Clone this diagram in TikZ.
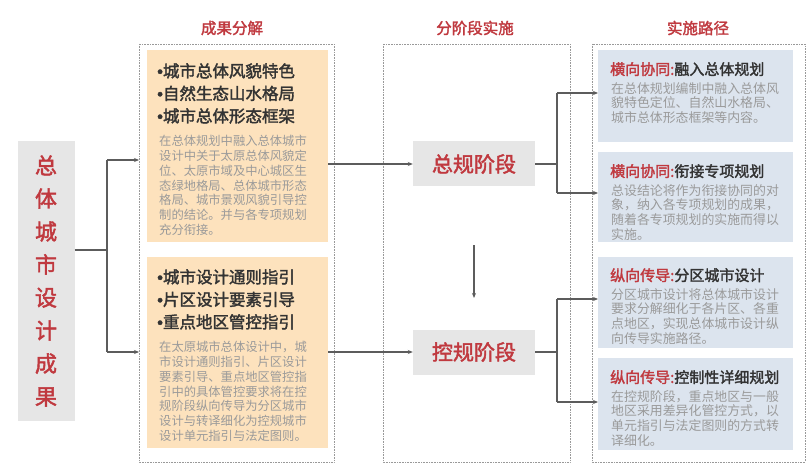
\documentclass[tikz,border=0pt]{standalone}
\usepackage{fontspec}
\setmainfont{Noto Sans CJK SC}
\newfontfamily\cjkb{Noto Sans CJK SC}[FakeBold=2]
\newfontfamily\latinb{Liberation Sans}[FakeBold=2]
\usetikzlibrary{arrows.meta}
\definecolor{myred}{HTML}{C0393F}
\definecolor{orangefill}{HTML}{FDE2BD}
\definecolor{bluefill}{HTML}{DCE4EE}
\definecolor{grayfill}{HTML}{E6E6E6}
\definecolor{bodygray}{HTML}{9A9A9A}
\definecolor{dark}{HTML}{333333}
\newcommand{\bul}{{\latinb •}}
\tikzset{
  x=1pt,y=-1pt,
  frame/.style={draw=gray!80,densely dotted,line width=0.6pt},
  title/.style={text=myred,font=\cjkb\fontsize{15.5}{17}\selectfont},
  obox/.style={fill=orangefill,minimum width=181pt,anchor=north west,inner sep=0pt},
  bbox/.style={fill=bluefill,minimum width=195pt,anchor=north west,inner sep=0pt},
  stagebox/.style={fill=grayfill,minimum width=122pt,minimum height=45pt,text=myred,font=\cjkb\fontsize{21}{24}\selectfont},
  conn/.style={draw=dark!80,line width=1.2pt},
  arr/.style={conn,-{Stealth[length=5pt,width=4pt]}},
}
\begin{document}
\begin{tikzpicture}
\useasboundingbox[fill=white] (0,0) rectangle (812,476);
% frames
\draw[frame] (139,44) rectangle (334,462);
\draw[frame] (383,44) rectangle (570,462);
\draw[frame] (592,44) rectangle (805,462);
\node[title] (t1) at (232,28) {成果分解};
\node[title] (t2) at (475,28) {分阶段实施};
\node[title] (t3) at (698,28) {实施路径};
% left gray
\node[fill=grayfill,minimum width=57pt,minimum height=280pt,text=myred,font=\cjkb\fontsize{22}{33}\selectfont,align=center,inner sep=0pt] (src) at (46,281) {总\\体\\城\\市\\设\\计\\成\\果};
% orange boxes
\node[obox,minimum height=192pt] (o1) at (147,50) {};
\node[anchor=north west,align=left,inner sep=0pt,text=dark,font=\cjkb\fontsize{16.5}{22.5}\selectfont] (o1h) at (157,63) {\bul 城市总体风貌特色\\\bul 自然生态山水格局\\\bul 城市总体形态框架};
\node[anchor=north west,align=left,inner sep=0pt,text=bodygray,font=\fontsize{12.3}{14.8}\selectfont] (o1b) at (159,135) {在总体规划中融入总体城市\\设计中关于太原总体风貌定\\位、太原市域及中心城区生\\态绿地格局、总体城市形态\\格局、城市景观风貌引导控\\制的结论。并与各专项规划\\充分衔接。};
\node[obox,minimum height=191pt] (o2) at (147,257) {};
\node[anchor=north west,align=left,inner sep=0pt,text=dark,font=\cjkb\fontsize{16.5}{22.5}\selectfont] (o2h) at (157,269) {\bul 城市设计通则指引\\\bul 片区设计要素引导\\\bul 重点地区管控指引};
\node[anchor=north west,align=left,inner sep=0pt,text=bodygray,font=\fontsize{12.3}{14.8}\selectfont] (o2b) at (159,341) {在太原城市总体设计中，城\\市设计通则指引、片区设计\\要素引导、重点地区管控指\\引中的具体管控要求将在控\\规阶段纵向传导为分区城市\\设计与转译细化为控规城市\\设计单元指引与法定图则。};
% stage boxes
\node[stagebox] (s1) at (474,164) {总规阶段};
\node[stagebox] (s2) at (474,352) {控规阶段};
% blue boxes
\node[bbox,minimum height=92pt] (b1) at (598,50) {};
\node[bbox,minimum height=90pt] (b2) at (598,152) {};
\node[bbox,minimum height=91pt] (b3) at (598,257) {};
\node[bbox,minimum height=92pt] (b4) at (598,358) {};
\foreach \n/\y/\h/\b in {
 b1/62/{\textcolor{myred}{横向协同:}融入总体规划}/{在总体规划编制中融入总体风\\貌特色定位、自然山水格局、\\城市总体形态框架等内容。},
 b2/164/{\textcolor{myred}{横向协同:}衔接专项规划}/{总设结论将作为衔接协同的对\\象，纳入各专项规划的成果，\\随着各专项规划的实施而得以\\实施。},
 b3/268/{\textcolor{myred}{纵向传导:}分区城市设计}/{分区城市设计将总体城市设计\\要求分解细化于各片区、各重\\点地区，实现总体城市设计纵\\向传导实施路径。},
 b4/370/{\textcolor{myred}{纵向传导:}控制性详细规划}/{在控规阶段，重点地区与一般\\地区采用差异化管控方式，以\\单元指引与法定图则的方式转\\译细化。}}{
  \node[anchor=north west,inner sep=0pt,text=dark,font=\cjkb\fontsize{15}{16}\selectfont] (\n h) at (610,\y) {\h};
  \node[anchor=north west,align=left,inner sep=0pt,text=bodygray,font=\fontsize{12.9}{14.8}\selectfont] (\n t) at (611,\y+20) {\b};
}
% connectors
\coordinate (j0) at (107,250);
\coordinate (l1) at (139,160);
\coordinate (l2) at (139,352);
\draw[conn] (src.east |- j0) -- (j0);
\draw[arr] (107,160) -- (l1);
\draw[conn] (107,160) -- (107,352);
\draw[arr] (107,352) -- (l2);
\draw[arr] (o1.east |- s1) -- (s1.west);
\draw[arr] (o2.east |- s2) -- (s2.west);
\coordinate (d1) at (474,245);
\coordinate (d2) at (474,298);
\draw[arr] (d1) -- (d2);
\coordinate (k1) at (557,164);
\coordinate (k2) at (557,352);
\draw[conn] (s1.east) -- (k1);
\draw[conn] (s2.east) -- (k2);
\draw[conn] (557,93) -- (557,193);
\draw[conn] (557,299) -- (557,402);
\draw[arr] (557,93) -- (b1.west |- 0,93);
\draw[arr] (557,193) -- (b2.west |- 0,193);
\draw[arr] (557,299) -- (b3.west |- 0,299);
\draw[arr] (557,402) -- (b4.west |- 0,402);
\end{tikzpicture}
\end{document}
